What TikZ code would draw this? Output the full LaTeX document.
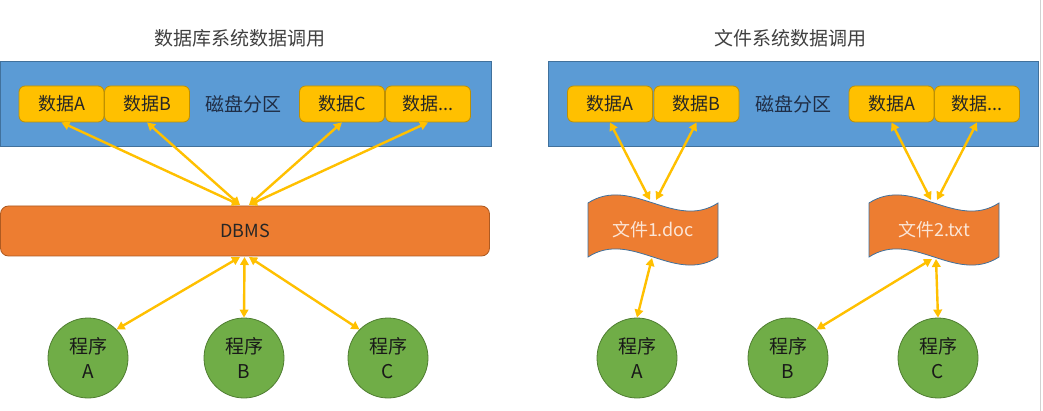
\documentclass[tikz,border=0pt]{standalone}
\usepackage{fontspec}
\setmainfont{Noto Sans CJK SC}
\usetikzlibrary{arrows.meta,calc}
\definecolor{bandblue}{HTML}{5B9BD5}
\definecolor{bandedge}{HTML}{41719C}
\definecolor{gold}{HTML}{FFC000}
\definecolor{goldedge}{HTML}{BF9000}
\definecolor{orng}{HTML}{ED7D31}
\definecolor{orngedge}{HTML}{AE5A21}
\definecolor{grn}{HTML}{70AD47}
\definecolor{grnedge}{HTML}{507E32}
\definecolor{titlegray}{HTML}{404040}
\definecolor{disktext}{HTML}{1F2D45}
\definecolor{tapetext}{HTML}{FBE5D6}
\newcommand\tapeat[2]{%
  \filldraw[tapeshape] (#1-65,#2-27) .. controls +(43.3,-28) and +(-43.3,28) .. (#1+65,#2-27)
    -- (#1+65,#2+27) .. controls +(-43.3,28) and +(43.3,-28) .. (#1-65,#2+27) -- cycle;}
\begin{document}
\begin{tikzpicture}[x=1pt,y=-1pt,
  band/.style={fill=bandblue,draw=bandedge,line width=0.8pt},
  title/.style={font=\fontsize{19}{22}\selectfont,text=titlegray,inner sep=0pt},
  disk/.style={font=\fontsize{19}{22}\selectfont,text=disktext,inner sep=0pt},
  databox/.style={rectangle,rounded corners=6pt,fill=gold,draw=goldedge,line width=0.8pt,
    minimum width=85pt,minimum height=36pt,inner sep=0pt,
    font=\fontsize{18}{20}\selectfont,text=black!85},
  dbmsbox/.style={rectangle,rounded corners=8pt,fill=orng,draw=orngedge,line width=0.8pt,
    minimum width=489pt,minimum height=50pt,inner sep=0pt,
    font=\fontsize{18}{20}\selectfont,text=black!85},
  tapeshape/.style={fill=orng,draw=bandedge,line width=0.8pt},
  tapelabel/.style={inner sep=0pt,font=\fontsize{18}{20}\selectfont,text=tapetext},
  prog/.style={circle,fill=grn,draw=grnedge,line width=0.8pt,minimum size=80pt,inner sep=0pt,
    align=center,font=\fontsize{19}{25}\selectfont,text=black!90},
  link/.style={draw=gold,line width=2.4pt,
    {Triangle[length=8pt,width=8.5pt]}-{Triangle[length=8pt,width=8.5pt]}}
]
\useasboundingbox (0,0) rectangle (1043,411);
\fill[white] (0,0) rectangle (1043,411);
\draw[black!18,line width=1.2pt] (1040.5,0) -- (1040.5,411);

% titles
\node[title] (t1) at (240,38) {数据库系统数据调用};
\node[title] (t2) at (790,38) {文件系统数据调用};

% bands
\draw[band] (0,61) rectangle (491,146);
\draw[band] (548,61) rectangle (1038,146);

% left data boxes
\node[databox] (dA1) at (61.5,104) {数据A};
\node[databox] (dB1) at (147,104) {数据B};
\node[disk] (k1) at (243,104) {磁盘分区};
\node[databox] (dC1) at (342,104) {数据C};
\node[databox] (dD1) at (428,104) {数据...};

% right data boxes
\node[databox] (dA2) at (610,104) {数据A};
\node[databox] (dB2) at (696.5,104) {数据B};
\node[disk] (k2) at (793,104) {磁盘分区};
\node[databox] (dA3) at (891.5,104) {数据A};
\node[databox] (dD2) at (977,104) {数据...};

% DBMS
\node[dbmsbox] (dbms) at (245,231) {DBMS};

% tapes
\tapeat{653}{230}
\node[tapelabel] (f1) at (653,230) {文件1.doc};
\tapeat{934}{230}
\node[tapelabel] (f2) at (934,230) {文件2.txt};

% programs
\node[prog] (pA1) at (88,358) {程序\\A};
\node[prog] (pB1) at (244,358) {程序\\B};
\node[prog] (pC1) at (388,358) {程序\\C};
\node[prog] (pA2) at (637,358) {程序\\A};
\node[prog] (pB2) at (788,358) {程序\\B};
\node[prog] (pC2) at (938,358) {程序\\C};

% connection points
\coordinate (dbt1) at (240,205);
\coordinate (dbt2) at (249,205);
\coordinate (dbb1) at (240,257);
\coordinate (dbb2) at (244.5,257);
\coordinate (dbb3) at (249,257);
\coordinate (f1t1) at (650,200);
\coordinate (f1t2) at (656,200);
\coordinate (f1b) at (652,258);
\coordinate (f2t1) at (931,200);
\coordinate (f2t2) at (937,200);
\coordinate (f2b1) at (932,259);
\coordinate (f2b2) at (936,259);

% links left
\draw[link] (dA1.south) -- (dbt1);
\draw[link] (dB1.south) -- (dbt1);
\draw[link] (dC1.south) -- (dbt2);
\draw[link] (dD1.south) -- (dbt2);
\draw[link] (dbb1) -- (pA1.north east);
\draw[link] (dbb2) -- (pB1.north);
\draw[link] (dbb3) -- (pC1.north west);

% links right
\draw[link] (dA2.south) -- (f1t1);
\draw[link] (dB2.south) -- (f1t2);
\draw[link] (dA3.south) -- (f2t1);
\draw[link] (dD2.south) -- (f2t2);
\draw[link] (f1b) -- (pA2.north);
\draw[link] (f2b1) -- (pB2.north east);
\draw[link] (f2b2) -- (pC2.north);
\end{tikzpicture}
\end{document}
